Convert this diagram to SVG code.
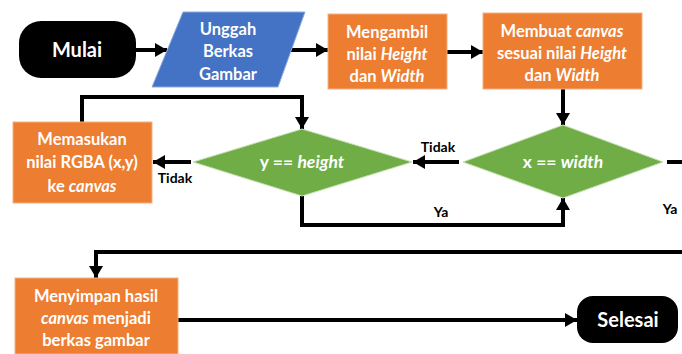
<svg xmlns="http://www.w3.org/2000/svg" width="682" height="354" viewBox="0 0 682 354">
<defs>
<style>
.t{font-family:Lato,"Liberation Sans",sans-serif;font-weight:bold;fill:#fff;text-anchor:middle}
.b{font-size:16.5px}
.d{font-size:17.5px}
.lbl{font-family:Lato,"Liberation Sans",sans-serif;font-weight:bold;fill:#000;font-size:14px;text-anchor:middle}
.c{fill:none;stroke:#000;stroke-width:4;stroke-linejoin:miter}
.or{fill:#ED7D31;stroke:#F4B183;stroke-width:1}
</style>
<marker id="ah" markerUnits="userSpaceOnUse" markerWidth="12" markerHeight="14" viewBox="0 0 12 14" refX="12" refY="7" orient="auto">
<path d="M0,0 L12,7 L0,14 Z" fill="#000"/>
</marker>
</defs>
<g id="connectors">
<path class="c" d="M135,50 H167" marker-end="url(#ah)"/>
<path class="c" d="M291,50 H328" marker-end="url(#ah)"/>
<path class="c" d="M447,52 H483" marker-end="url(#ah)"/>
<path class="c" d="M563,89 V125" marker-end="url(#ah)"/>
<path class="c" d="M459,162 H413" marker-end="url(#ah)"/>
<path class="c" d="M667,162 H682"/>
<path class="c" d="M682,252 H96 V278" marker-end="url(#ah)"/>
<path class="c" d="M302,196 V225 H563 V198" marker-end="url(#ah)"/>
<path class="c" d="M191,162 H153" marker-end="url(#ah)"/>
<path class="c" d="M82,122 V97 H302 V129" marker-end="url(#ah)"/>
<path class="c" d="M178,320 H577" marker-end="url(#ah)"/>
<text class="lbl" x="438" y="152">Tidak</text>
<text class="lbl" x="670" y="214">Ya</text>
<text class="lbl" x="441" y="217">Ya</text>
<text class="lbl" x="175" y="183">Tidak</text>
</g>
<g id="mulai">
<rect x="19" y="21" width="117" height="57" rx="22" fill="#000"/>
<text class="t" x="77" y="57" font-size="20">Mulai</text>
</g>
<g id="unggah">
<polygon points="183,12 305,12 278,87 152,87" fill="#4472C4" stroke="#8FAADC" stroke-width="1"/>
<text class="t b" x="228" y="35">Unggah</text>
<text class="t b" x="228" y="57">Berkas</text>
<text class="t b" x="228" y="80">Gambar</text>
</g>
<g id="mengambil">
<rect class="or" x="328" y="14" width="119" height="75"/>
<text class="t b" x="387" y="38">Mengambil</text>
<text class="t b" x="387" y="60">nilai <tspan font-style="italic">Height</tspan></text>
<text class="t b" x="387" y="82">dan <tspan font-style="italic">Width</tspan></text>
</g>
<g id="membuat">
<rect class="or" x="483" y="13" width="159" height="76"/>
<text class="t b" x="562" y="37">Membuat <tspan font-style="italic">canvas</tspan></text>
<text class="t b" x="562" y="59">sesuai nilai <tspan font-style="italic">Height</tspan></text>
<text class="t b" x="562" y="81">dan <tspan font-style="italic">Width</tspan></text>
</g>
<g id="xwidth">
<polygon points="563,125 663,162 563,198 463,162" fill="#70AD47" stroke="#C5E0B4" stroke-width="1"/>
<text class="t d" x="563" y="168">x == <tspan font-style="italic">width</tspan></text>
</g>
<g id="yheight">
<polygon points="302,129 412,162 302,196 193,162" fill="#70AD47" stroke="#C5E0B4" stroke-width="1"/>
<text class="t d" x="302" y="168">y == <tspan font-style="italic">height</tspan></text>
</g>
<g id="memasukan">
<rect class="or" x="13" y="122" width="139" height="81"/>
<text class="t b" x="82" y="145">Memasukan</text>
<text class="t b" x="82" y="168">nilai RGBA (x,y)</text>
<text class="t b" x="82" y="192">ke <tspan font-style="italic">canvas</tspan></text>
</g>
<g id="menyimpan">
<rect class="or" x="15" y="278" width="163" height="76"/>
<text class="t b" x="96" y="302">Menyimpan hasil</text>
<text class="t b" x="96" y="324"><tspan font-style="italic">canvas</tspan> menjadi</text>
<text class="t b" x="96" y="346">berkas gambar</text>
</g>
<g id="selesai">
<rect x="577" y="296" width="101" height="47" rx="16" fill="#000"/>
<text class="t" x="628" y="327" font-size="20">Selesai</text>
</g>
</svg>
